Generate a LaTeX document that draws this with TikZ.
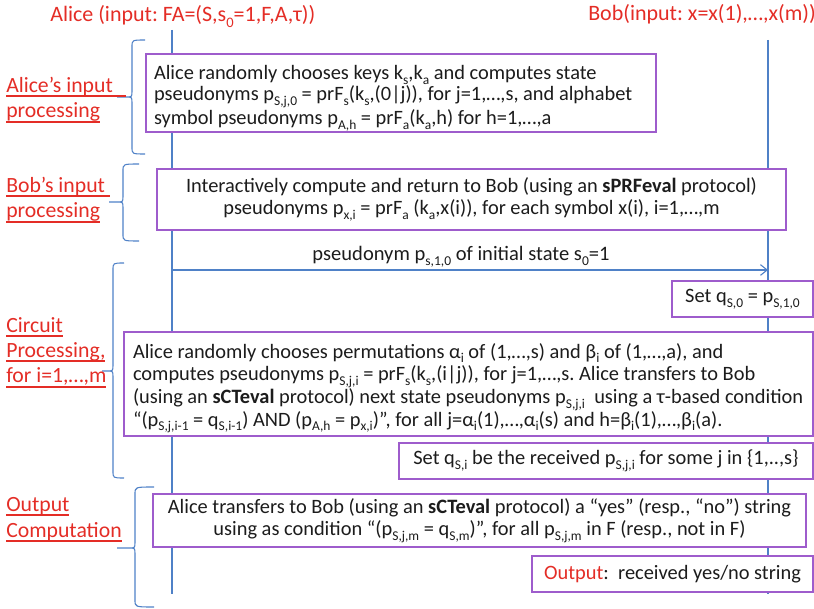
\documentclass[tikz,border=0pt]{standalone}
\usepackage{fontspec}
\setmainfont{Carlito}
\usetikzlibrary{arrows.meta}
\frenchspacing

\definecolor{redtxt}{RGB}{228,45,38}
\definecolor{lifeblue}{RGB}{79,129,199}
\definecolor{boxpurple}{RGB}{158,92,204}
\definecolor{ink}{RGB}{28,28,28}

% underlined text (the rule follows the text colour)
\newsavebox\ulbox
\newcommand\redul[1]{\sbox\ulbox{#1}\rlap{\rule[-3.4pt]{\wd\ulbox}{1.3pt}}\usebox\ulbox}

% small lowered index
\newcommand\sbx[1]{\raisebox{-0.24em}{\scalebox{0.66}{#1}}}
\newcommand\oneline[1]{\mbox{#1}}
% extra room above the first line of a left-aligned box
\newcommand\topgap[1]{\rule{0pt}{#1}}

% left curly brace: end x, spine x, tip x, top y, middle y, bottom y
\newcommand\sidebrace[6]{%
  \draw[bracepath] (#1,#4) .. controls (#2,#4) .. ({#2},{#4+7})
    -- ({#2},{#5-6}) .. controls (#2,#5) .. ({#2-6},#5) -- (#3,#5)
    -- ({#2-6},#5) .. controls (#2,#5) .. ({#2},{#5+6})
    -- ({#2},{#6-7}) .. controls (#2,#6) .. (#1,#6);}

\tikzset{
  plainspaces/.style={execute at begin node={\spaceskip=0pt\xspaceskip=0pt\relax}},
  lifeline/.style={draw=lifeblue, line width=0.8pt},
  bracepath/.style={draw=lifeblue, line width=0.8pt},
  msgbox/.style={draw=boxpurple, line width=1.1pt, fill=white, inner sep=0pt,
    text=ink, font=\fontsize{15.3}{16.2}\selectfont, plainspaces},
  sectlabel/.style={text=redtxt, font=\fontsize{16.3}{19}\selectfont, align=left,
    anchor=base west, inner sep=0pt, plainspaces},
  header/.style={text=redtxt, font=\fontsize{16.5}{19}\selectfont,
    anchor=base west, inner sep=0pt},
  msglabel/.style={text=ink, font=\fontsize{15.4}{16.2}\selectfont, anchor=base, inner sep=0pt},
}

\begin{document}
\begin{tikzpicture}[x=0.75pt, y=-0.75pt]
\useasboundingbox (0,0) rectangle (814,609);

% participants
\node[header] (alicehead) at (50,22) {Alice (input: FA=(S,s\sbx{0}=1,F,A,τ))};
\node[header] (bobhead) at (588,21) {Bob(input: x=x(1),…,x(m))};

% lifelines
\coordinate (atop) at (172,30);
\coordinate (abot) at (172,594);
\coordinate (btop) at (768,40);
\coordinate (bbot) at (768,594);
\draw[lifeline] (atop) -- (abot);
\draw[lifeline] (btop) -- (bbot);

% phase braces
\sidebrace{145}{132}{117}{40}{97}{154}
\sidebrace{139}{123}{109}{164}{202}{241}
\sidebrace{124}{113}{102}{263}{371}{478}
\sidebrace{154}{135}{117}{487}{548}{607}

% phase labels (anchored at the baseline of their last line)
\node[sectlabel] (lab1) at (6,118) {\redul{Alice’s input\kern0.6em}\\\redul{processing}};
\node[sectlabel] (lab2) at (6,218) {\redul{Bob’s input\ }\\\redul{processing}};
\node[sectlabel] (lab3) at (6,383) {\redul{Circuit}\\\redul{Processing,}\\\redul{for i=1,…,m}};
\node[sectlabel] (lab4) at (6,537) {\redul{Output}\\\redul{Computation}};

% Alice's input processing
\node[msgbox, minimum width=382.5pt, minimum height=58.5pt, text width=370.5pt, align=left]
  (keys) at (401,93) {%
  \oneline{\topgap{18pt}Alice randomly chooses keys k\sbx{s},k\sbx{a} and computes state}\\
  \oneline{pseudonyms p\sbx{S,j,0} = prF\sbx{s}(k\sbx{s},(0|j)), for j=1,…,s, and alphabet}\\
  \oneline{symbol pseudonyms p\sbx{A,h} = prF\sbx{a}(k\sbx{a},h) for h=1,…,a}};

% Bob's input processing
\node[msgbox, minimum width=471.75pt, minimum height=45.75pt, align=center]
  (prfeval) at (471.5,199.5) {%
  Interactively compute and return to Bob (using an \textbf{sPRFeval} protocol)\\
  pseudonyms p\sbx{x,i} = prF\sbx{a} (k\sbx{a},x(i)), for each symbol x(i), i=1,…,m};

% initial state message
\coordinate (msgA) at (172,270);
\coordinate (msgB) at (768,270);
\draw[lifeline, -{Straight Barb[length=5pt,width=8pt]}] (msgA) -- (msgB);
\node[msglabel] (msgtext) at (461,261) {pseudonym p\sbx{s,1,0} of initial state s\sbx{0}=1};

\node[msgbox, minimum width=105.75pt, minimum height=27pt, align=center]
  (setq0) at (742.5,299) {Set q\sbx{S,0} = p\sbx{S,1,0}};

% circuit processing
\node[msgbox, minimum width=516.75pt, minimum height=78pt, text width=503.25pt, align=left,
      font=\fontsize{15.3}{17}\selectfont]
  (cteval) at (468.5,384) {%
  \oneline{\topgap{17.5pt}Alice randomly chooses permutations α\sbx{i} of (1,…,s) and β\sbx{i} of (1,…,a), and}\\
  \oneline{computes pseudonyms p\sbx{S,j,i} = prF\sbx{s}(k\sbx{s},(i|j)), for j=1,…,s. Alice transfers to Bob}\\
  \oneline{(using an \textbf{sCTeval} protocol) next state pseudonyms p\sbx{S,j,i}~ using a τ-based condition}\\
  \oneline{“(p\sbx{S,j,i-1} = q\sbx{S,i-1}) AND (p\sbx{A,h} = p\sbx{x,i})”, for all j=α\sbx{i}(1),…,α\sbx{i}(s) and h=β\sbx{i}(1),…,β\sbx{i}(a).}};

\node[msgbox, minimum width=310.5pt, minimum height=27pt, align=center]
  (setqi) at (606,461) {Set q\sbx{S,i} be the received p\sbx{S,j,i} for some j in \{1,..,s\}};

% output computation
\node[msgbox, minimum width=489.75pt, minimum height=39.75pt, align=center]
  (final) at (479.5,520.5) {%
  Alice transfers to Bob (using an \textbf{sCTeval} protocol) a “yes” (resp., “no”) string\\
  using as condition “(p\sbx{S,j,m} = q\sbx{S,m})”, for all p\sbx{S,j,m} in F (resp., not in F)};

\node[msgbox, minimum width=210.75pt, minimum height=27pt, align=center]
  (outbox) at (672.5,574) {\textcolor{redtxt}{Output}:~ received yes/no string};
\end{tikzpicture}
\end{document}
